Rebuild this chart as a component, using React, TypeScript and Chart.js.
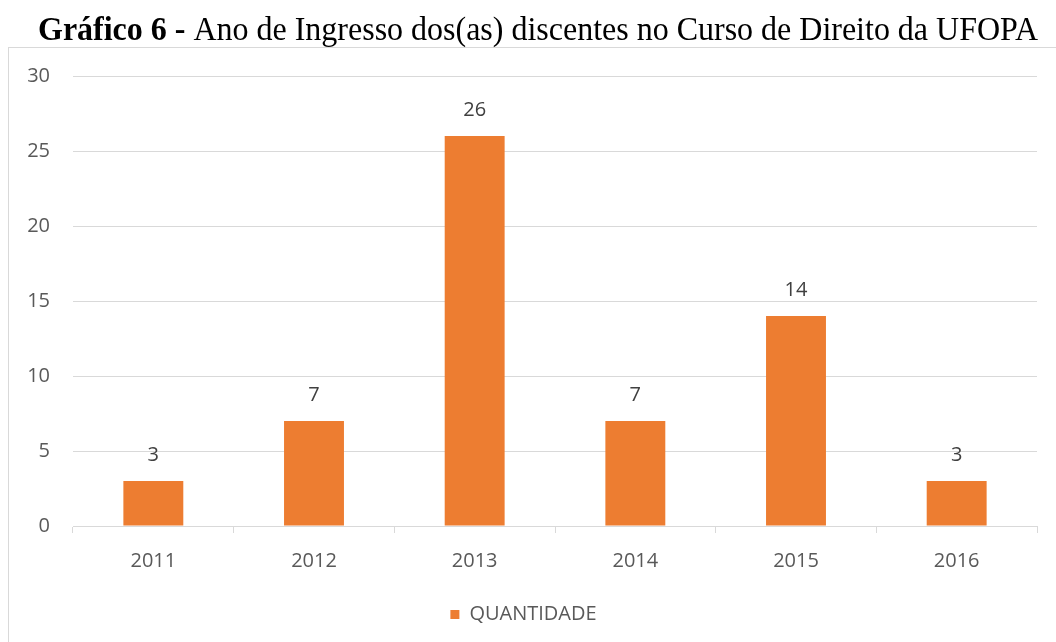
import React, { useEffect, useRef } from "react";
import { Chart, registerables } from "chart.js";

Chart.register(...registerables);

const titleBold = "Gráfico 6 - ";
const titleNormal = "Ano de Ingresso dos(as) discentes no Curso de Direito da UFOPA";
const categories = ["2011", "2012", "2013", "2014", "2015", "2016"];
const seriesName = "QUANTIDADE";
const quantities = [3, 7, 26, 7, 14, 3];
const yTicks = [0, 5, 10, 15, 20, 25, 30];

const ORANGE = "#ED7D31";
const GRID = "#D9D9D9";
const TEXT = "#595959";
const FONT = "'Open Sans', sans-serif";

const framePlugin = {
  id: "frame",
  beforeDraw(chart: any) {
    const ctx = chart.ctx;
    ctx.save();
    ctx.fillStyle = "#ffffff";
    ctx.fillRect(0, 0, chart.width, chart.height);
    ctx.strokeStyle = GRID;
    ctx.lineWidth = 1;
    ctx.strokeRect(8.5, 47.5, 1200, 700);
    // title
    const boldFont = "bold 33px 'Liberation Serif', 'Times New Roman', serif";
    const normFont = "33px 'Liberation Serif', 'Times New Roman', serif";
    ctx.font = boldFont;
    const w1 = ctx.measureText(titleBold).width;
    ctx.font = normFont;
    const w2 = ctx.measureText(titleNormal).width;
    const sx = 1000 / (w1 + w2);
    ctx.translate(38, 40);
    ctx.scale(sx, 1);
    ctx.fillStyle = "#000000";
    ctx.textBaseline = "alphabetic";
    ctx.textAlign = "left";
    ctx.font = boldFont;
    ctx.fillText(titleBold, 0, 0);
    ctx.font = normFont;
    ctx.fillText(titleNormal, w1, 0);
    ctx.restore();
  },
};

const labelPlugin = {
  id: "barLabels",
  afterDatasetsDraw(chart: any) {
    const ctx = chart.ctx;
    ctx.save();
    ctx.font = `20px ${FONT}`;
    ctx.fillStyle = "#404040";
    ctx.textAlign = "center";
    ctx.textBaseline = "middle";
    const meta = chart.getDatasetMeta(0);
    meta.data.forEach((bar: any, i: number) => {
      ctx.fillText(String(quantities[i]), bar.x, bar.y - 26);
    });
    ctx.restore();
  },
};

export default function App() {
  const ref = useRef<HTMLCanvasElement>(null);
  useEffect(() => {
    if (!ref.current) return;
    const chart = new Chart(ref.current, {
      type: "bar",
      data: {
        labels: categories,
        datasets: [
          {
            label: seriesName,
            data: quantities,
            backgroundColor: ORANGE,
            borderWidth: 0,
            categoryPercentage: 1,
            barPercentage: 0.373,
          },
        ],
      },
      options: {
        responsive: false,
        animation: false,
        layout: { padding: { left: 10, right: 19, top: 76, bottom: 7.5 } },
        plugins: {
          title: { display: false },
          tooltip: { enabled: false },
          legend: {
            position: "bottom",
            labels: {
              boxWidth: 9,
              boxHeight: 9,
              padding: 10,
              color: TEXT,
              font: { family: FONT, size: 20 },
            },
          },
        },
        scales: {
          x: {
            grid: {
              drawOnChartArea: false,
              drawTicks: true,
              tickLength: 7,
              color: GRID,
            },
            border: { color: GRID },
            ticks: { color: TEXT, font: { family: FONT, size: 20 }, padding: 16.5 },
            afterFit(scale: any) {
              scale.height += 4.5;
            },
          },
          y: {
            min: 0,
            max: 30,
            afterBuildTicks(scale: any) {
              scale.ticks = yTicks.map((v) => ({ value: v }));
            },
            afterFit(scale: any) {
              scale.width = 63;
            },
            grid: { color: GRID, drawTicks: false },
            border: { display: false },
            ticks: { color: TEXT, font: { family: FONT, size: 20 }, padding: 23 },
          },
        },
      },
      plugins: [framePlugin, labelPlugin],
    });
    return () => chart.destroy();
  }, []);
  return (
    <canvas
      ref={ref}
      width={1056}
      height={642}
      style={{ position: "absolute", left: 0, top: 0, display: "block" }}
    />
  );
}
